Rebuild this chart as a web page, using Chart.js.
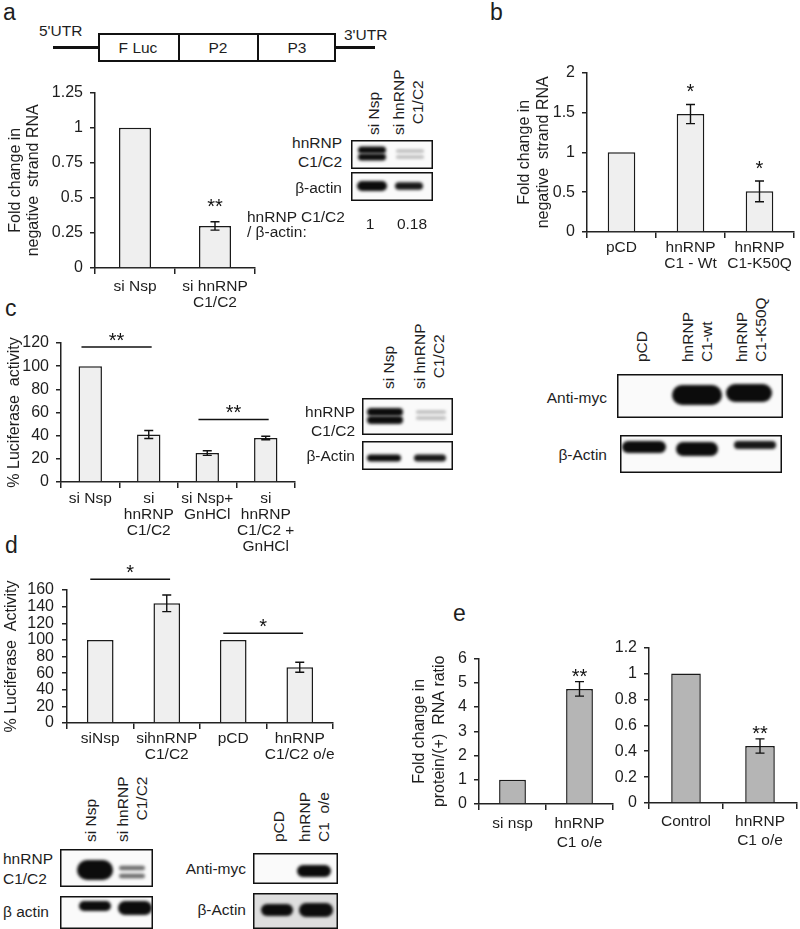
<!DOCTYPE html>
<html>
<head>
<meta charset="utf-8">
<script src="https://cdn.jsdelivr.net/npm/chart.js@4.4.1/dist/chart.umd.min.js"></script>
<style>
  body { margin: 0; background: #fff; }
  #fig { position: relative; width: 800px; height: 929px; overflow: hidden; font-family: "Liberation Sans", Arial, sans-serif; color: #1e1e1e; }
  #fig canvas { position: absolute; }
  .rot { position: absolute; transform: rotate(-90deg); transform-origin: 0 0; white-space: pre; }
</style>
</head>
<body>
<div id="fig"></div>
<script>
// panel a
const aCats = [["si Nsp"], ["si hnRNP", "C1/C2"]];
const aVals = [1, 0.30];
const aErr = [0, 0.03];
const aSig = ["", "**"];

// panel b
const bCats = [["pCD"], ["hnRNP", "C1 - Wt"], ["hnRNP", "C1-K50Q"]];
const bVals = [1, 1.48, 0.51];
const bErr = [0, 0.12, 0.13];
const bSig = ["", "*", "*"];

// panel c
const cCats = [["si Nsp"], ["si", "hnRNP", "C1/C2"], ["si Nsp+", "GnHCl"], ["si", "hnRNP", "C1/C2 +", "GnHCl"]];
const cVals = [100, 41, 25, 38];
const cErr = [0, 3.5, 2, 1.5];
const cPairs = [[0, 1, 116.5, "**"], [2, 3, 54, "**"]];

// panel d
const dCats = [["siNsp"], ["sihnRNP", "C1/C2"], ["pCD"], ["hnRNP", "C1/C2 o/e"]];
const dVals = [100, 144, 100, 67];
const dErr = [0, 10, 0, 6];
const dPairs = [[0, 1, 173, "*"], [2, 3, 108, "*"]];

// panel e
const e1Cats = [["si nsp"], ["hnRNP", "C1 o/e"]];
const e1Vals = [1, 4.75];
const e1Err = [0, 0.3];
const e1Sig = ["", "**"];
const e2Cats = [["Control"], ["hnRNP", "C1 o/e"]];
const e2Vals = [1, 0.44];
const e2Err = [0, 0.055];
const e2Sig = ["", "**"];

const FONT = '"Liberation Sans", Arial, sans-serif';
const AX = "#222";
const TX = "#1e1e1e";
const fig = document.getElementById("fig");
Chart.defaults.font.family = FONT;

function txt(s, x, y, opts = {}) {
  const size = opts.size || 15.5, lh = opts.lh || Math.round(size * 1.15);
  const n = s.split("\n").length;
  const d = document.createElement("div");
  d.textContent = s;
  d.style.cssText = `position:absolute;white-space:pre;font-size:${size}px;line-height:${lh}px;top:${y - n * lh / 2}px;`;
  if (opts.align === "right") { d.style.right = (800 - x) + "px"; d.style.textAlign = "right"; }
  else if (opts.align === "center") { d.style.left = (x - 200) + "px"; d.style.width = "400px"; d.style.textAlign = "center"; }
  else d.style.left = x + "px";
  fig.appendChild(d);
}

// rotated lane label, cx = middle of the text block, bottom = where the text starts
function vlabel(s, cx, bottom, align = "center", lh = 19, size = 15.5) {
  const n = s.split("\n").length;
  const d = document.createElement("div");
  d.className = "rot";
  d.textContent = s;
  d.style.fontSize = size + "px";
  d.style.lineHeight = lh + "px";
  d.style.textAlign = align;
  d.style.left = (cx - n * lh / 2) + "px";
  d.style.top = bottom + "px";
  fig.appendChild(d);
}

function box(x, y, w, h, style) {
  const d = document.createElement("div");
  d.style.cssText = `position:absolute;left:${x}px;top:${y}px;width:${w}px;height:${h}px;box-sizing:border-box;` + style;
  fig.appendChild(d);
}

function blot(x, y, w, h, bands, bg) {
  const cv = document.createElement("canvas");
  cv.width = w; cv.height = h;
  cv.style.left = x + "px"; cv.style.top = y + "px";
  const ctx = cv.getContext("2d");
  ctx.fillStyle = bg || "#fafafa";
  ctx.fillRect(0, 0, w, h);
  ctx.filter = "blur(1.6px)";
  bands.forEach(([cx, cy, rx, ry, a]) => {
    ctx.fillStyle = `rgba(12,12,12,${a})`;
    ctx.beginPath();
    ctx.roundRect(cx - rx, cy - ry, rx * 2, ry * 2, ry);
    ctx.fill();
  });
  ctx.filter = "none";
  ctx.strokeStyle = "#111";
  ctx.lineWidth = 1.5;
  ctx.strokeRect(0.75, 0.75, w - 1.5, h - 1.5);
  fig.appendChild(cv);
}

function barChart(p) {
  const W = p.r - p.l + p.yw + p.pr;
  const H = p.b - p.t + p.pt + p.xh;
  const cv = document.createElement("canvas");
  cv.width = W; cv.height = H;
  cv.style.left = (p.l - p.yw) + "px";
  cv.style.top = (p.t - p.pt) + "px";
  fig.appendChild(cv);

  // error bars, stars and significance lines
  const overlay = {
    id: "overlay",
    afterDatasetsDraw(chart) {
      const ctx = chart.ctx, y = chart.scales.y, x = chart.scales.x;
      const meta = chart.getDatasetMeta(0);
      ctx.save();
      ctx.strokeStyle = "#111";
      ctx.fillStyle = "#111";
      ctx.lineWidth = 1.4;
      ctx.font = `20px ${FONT}`;
      ctx.textAlign = "center";
      ctx.textBaseline = "alphabetic";
      p.vals.forEach((v, i) => {
        const bx = meta.data[i].x;
        const e = (p.errs && p.errs[i]) || 0;
        let yt = y.getPixelForValue(v);
        if (e) {
          const y1 = y.getPixelForValue(v + e), y2 = y.getPixelForValue(v - e);
          ctx.beginPath();
          ctx.moveTo(bx, y1); ctx.lineTo(bx, y2);
          ctx.moveTo(bx - 4.5, y1); ctx.lineTo(bx + 4.5, y1);
          ctx.moveTo(bx - 4.5, y2); ctx.lineTo(bx + 4.5, y2);
          ctx.stroke();
          yt = y1;
        }
        if (p.sig && p.sig[i]) ctx.fillText(p.sig[i], bx, yt - p.starGap + 11);
      });
      (p.pairs || []).forEach(([i, j, v, s]) => {
        const yy = y.getPixelForValue(v);
        const x0 = x.getPixelForValue(i - 0.15), x1 = x.getPixelForValue(j + 0.05);
        ctx.beginPath();
        ctx.moveTo(x0, yy); ctx.lineTo(x1, yy);
        ctx.stroke();
        ctx.fillText(s, (x0 + x1) / 2, yy - 11 + 11);
      });
      ctx.restore();
    }
  };

  new Chart(cv, {
    type: "bar",
    data: {
      labels: p.cats,
      datasets: [{
        data: p.vals,
        backgroundColor: p.fill,
        borderColor: "#1a1a1a",
        borderWidth: 1.5,
        borderSkipped: "start",
        barPercentage: 0.4,
        categoryPercentage: 1
      }]
    },
    options: {
      responsive: false,
      animation: false,
      devicePixelRatio: 1,
      layout: { padding: { top: p.pt, right: p.pr, left: 0, bottom: 0 } },
      plugins: { legend: { display: false }, tooltip: { enabled: false } },
      scales: {
        x: {
          grid: { offset: true, drawOnChartArea: false, tickLength: 6, color: AX, lineWidth: 1.5 },
          border: { color: AX, width: 1.5 },
          ticks: { color: TX, font: { size: 15.5, lineHeight: p.xlh }, padding: p.xpad, autoSkip: false, maxRotation: 0 },
          afterFit: s => { s.height = p.xh; }
        },
        y: {
          min: 0,
          max: p.max,
          grid: { drawOnChartArea: false, tickLength: 5, color: AX, lineWidth: 1.5 },
          border: { color: AX, width: 1.5 },
          ticks: { stepSize: p.step, autoSkip: false, color: TX, font: { size: 16 }, padding: p.ypad, callback: v => String(+v.toFixed(2)) },
          title: p.title
            ? { display: true, text: p.title, color: TX, font: { size: 16, lineHeight: p.tlh }, padding: { top: p.tpad, bottom: 0 } }
            : { display: false },
          afterFit: s => { s.width = p.yw; }
        }
      }
    },
    plugins: [overlay]
  });
}

// ---------- panel letters ----------
txt("a", 3, 12, { size: 23 });
txt("b", 490, 12, { size: 23 });
txt("c", 5, 308, { size: 23 });
txt("d", 5, 545, { size: 23 });
txt("e", 453, 613, { size: 23 });

// ---------- construct diagram ----------
box(53, 46, 45, 3, "background:#111;");
box(336, 46, 39, 3, "background:#111;");
box(98, 33, 238, 29, "border:2px solid #111;");
box(178, 33, 2, 29, "background:#111;");
box(257, 33, 2, 29, "background:#111;");
txt("F Luc", 138, 48, { align: "center" });
txt("P2", 218, 48, { align: "center" });
txt("P3", 297, 48, { align: "center" });
txt("5'UTR", 39, 31);
txt("3'UTR", 344, 35);

// ---------- charts ----------
barChart({ cats: aCats, vals: aVals, errs: aErr, sig: aSig, starGap: 20, max: 1.25, step: 0.25,
  l: 95, t: 90, r: 255, b: 268, yw: 95, pt: 14, pr: 30, xh: 50, xpad: 5, xlh: 1.0, ypad: 7,
  title: ["Fold change in", "negative  strand RNA"], tlh: 1.15, tpad: 6, fill: "#efefef" });

barChart({ cats: bCats, vals: bVals, errs: bErr, sig: bSig, starGap: 17, max: 2, step: 0.5,
  l: 587, t: 70, r: 794, b: 232, yw: 75, pt: 14, pr: 6, xh: 50, xpad: 2, xlh: 1.0, ypad: 7,
  title: ["Fold change in", "negative  strand RNA"], tlh: 1.2, tpad: 3, fill: "#efefef" });

barChart({ cats: cCats, vals: cVals, errs: cErr, pairs: cPairs, max: 120, step: 20,
  l: 61, t: 343, r: 295, b: 482, yw: 61, pt: 24, pr: 30, xh: 80, xpad: 3, xlh: 1.03, ypad: 7,
  title: "% Luciferase  activity", tlh: 1.2, tpad: 5, fill: "#efefef" });

barChart({ cats: dCats, vals: dVals, errs: dErr, pairs: dPairs, max: 160, step: 20,
  l: 67, t: 590, r: 333, b: 723, yw: 67, pt: 36, pr: 30, xh: 45, xpad: 2, xlh: 1.03, ypad: 8,
  title: "% Luciferase  Activity", tlh: 1.2, tpad: 2, fill: "#efefef" });

barChart({ cats: e1Cats, vals: e1Vals, errs: e1Err, sig: e1Sig, starGap: 10, max: 6, step: 1,
  l: 479, t: 656, r: 613, b: 804, yw: 75, pt: 14, pr: 30, xh: 50, xpad: 4, xlh: 1.22, ypad: 7,
  title: ["Fold change in", "protein/(+)  RNA ratio"], tlh: 1.25, tpad: 6, fill: "#b5b5b5" });

barChart({ cats: e2Cats, vals: e2Vals, errs: e2Err, sig: e2Sig, starGap: 10, max: 1.2, step: 0.2,
  l: 649, t: 645, r: 797, b: 803, yw: 40, pt: 14, pr: 3, xh: 50, xpad: 3, xlh: 1.22, ypad: 7,
  fill: "#b5b5b5" });

// ---------- blot a ----------
vlabel("si Nsp", 373, 135);
vlabel("si hnRNP\nC1/C2", 408, 135);
blot(351, 140, 82, 29, [[21, 10, 14, 3.5, 1], [21, 17, 14, 3.5, 1], [59, 11, 14, 1.6, 0.3], [59, 17, 14, 1.6, 0.3]]);
blot(351, 172, 82, 29, [[21, 14, 15, 5, 1], [58, 14, 14, 3.8, 0.95]]);
txt("hnRNP\nC1/C2", 342, 152, { align: "right", lh: 19 });
txt("β-actin", 342, 188, { align: "right" });
txt("hnRNP C1/C2\n/ β-actin:", 247, 224, { lh: 15 });
txt("1", 370, 224, { align: "center" });
txt("0.18", 412, 224, { align: "center" });

// ---------- blot c (knockdown) ----------
vlabel("si Nsp", 388, 389);
vlabel("si hnRNP\nC1/C2", 429, 389);
blot(362, 398, 91, 37, [[23, 14, 18, 4, 1], [23, 22, 18, 4, 1], [69, 14, 15, 1.6, 0.3], [69, 20, 15, 1.6, 0.3]]);
blot(362, 441, 91, 29, [[22, 17, 17, 3.5, 1], [68, 17, 16, 3.5, 0.95]]);
txt("hnRNP\nC1/C2", 355, 421, { align: "right", lh: 19 });
txt("β-Actin", 355, 456, { align: "right" });

// ---------- blot c (overexpression) ----------
vlabel("pCD", 641, 362);
vlabel("hnRNP\nC1-wt", 697, 362, "left");
vlabel("hnRNP\nC1-K50Q", 751, 362, "left");
blot(617, 374, 166, 44, [[80, 21, 25, 10, 1], [132, 19, 23, 9, 1]]);
blot(620, 435, 162, 38, [[24, 12, 22, 6, 1], [77, 14, 21, 7, 1], [135, 10, 21, 4, 0.95]]);
txt("Anti-myc", 607, 398, { align: "right" });
txt("β-Actin", 607, 455, { align: "right" });

// ---------- blot d (knockdown) ----------
vlabel("si Nsp", 90, 842);
vlabel("si hnRNP\nC1/C2", 132, 842, "right");
blot(60, 849, 93, 38, [[35, 21, 18, 10, 1], [72, 19, 13, 2.2, 0.6], [72, 27, 13, 2.2, 0.6]]);
blot(60, 896, 93, 33, [[35, 10, 16, 5, 1], [75, 12, 17, 7, 1]]);
txt("hnRNP\nC1/C2", 3, 869, { lh: 20 });
txt("β actin", 3, 912);

// ---------- blot d (overexpression) ----------
vlabel("pCD", 278, 842);
vlabel("hnRNP\nC1  o/e", 314, 842, "right");
blot(253, 853, 85, 31, [[61, 18, 17, 6, 1]]);
blot(253, 893, 85, 36, [[24, 17, 16, 6, 1], [63, 17, 17, 7, 1]], "#dedede");
txt("Anti-myc", 246, 869, { align: "right" });
txt("β-Actin", 246, 910, { align: "right" });
</script>
</body>
</html>
